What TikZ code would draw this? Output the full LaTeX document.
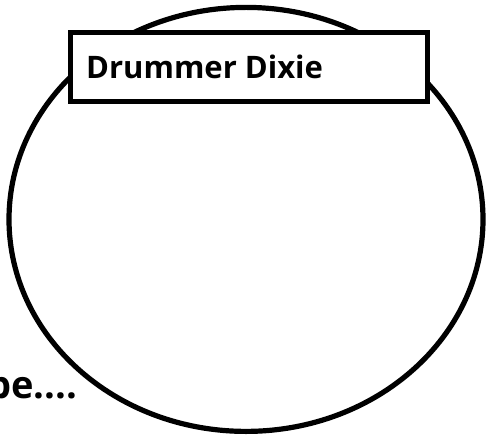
\documentclass[tikz,border=0pt]{standalone}
\usepackage{fontspec}
\setmainfont{Open Sans}
\begin{document}
\begin{tikzpicture}[x=1pt,y=1pt,
  outline/.style={draw=black,line width=5.2pt},
  label/.style={inner sep=0pt,anchor=base west,font=\bfseries}]
\useasboundingbox (0,0) rectangle (487,437);
\draw[outline] (246,217.6) ellipse [x radius=237,y radius=212];
\node[outline,fill=white,minimum width=357.5pt,minimum height=69pt,inner sep=0pt,anchor=north west] (box) at (67.75,406.75) {};
\node[label,font=\bfseries\fontsize{31}{36}\selectfont] (title) at (86,358) {Drummer Dixie};
\node[label,font=\bfseries\fontsize{38}{44}\selectfont] (note) at (-13,39) {pe....};
\end{tikzpicture}
\end{document}
